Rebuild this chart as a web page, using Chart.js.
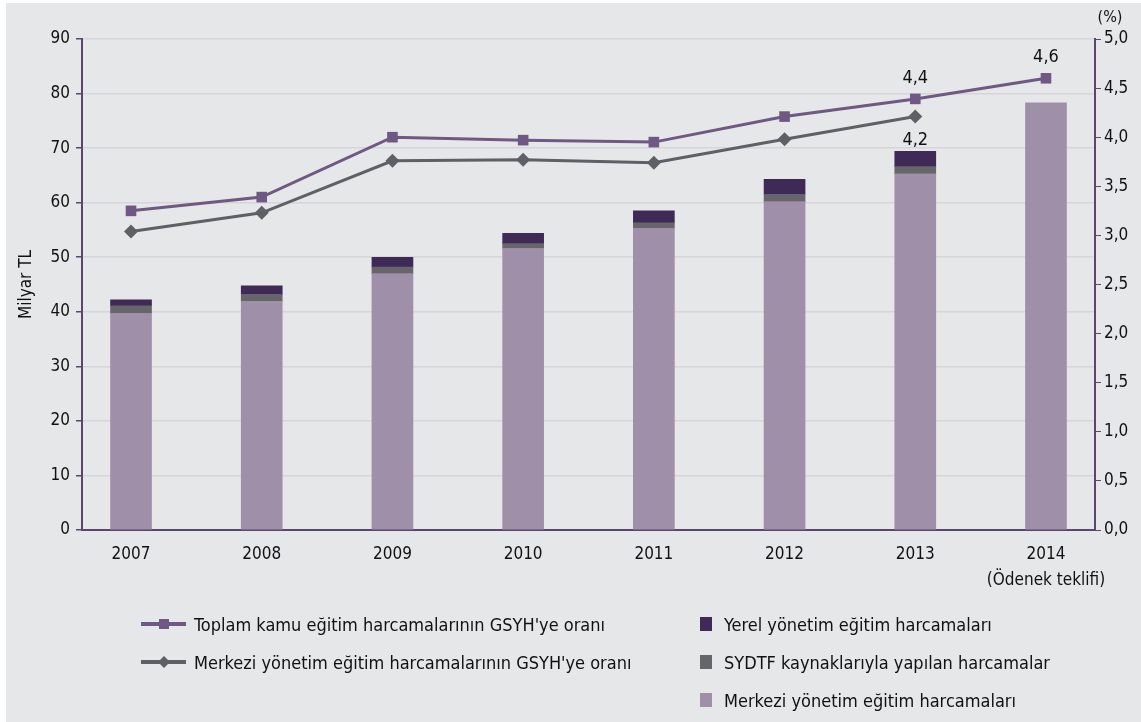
<!DOCTYPE html>
<html lang="tr">
<head>
    <meta charset="UTF-8">
    <title>Kamu eğitim harcamaları</title>
    <style>
        body {
            margin: 0;
            background: #fff;
            font-family: "DejaVu Sans Condensed", sans-serif;
        }

        #wrap {
            position: absolute;
            left: 6px;
            top: 3px;
            width: 1135px;
            height: 719px;
            background: #e6e7e9;
        }

        #legend .item {
            position: absolute;
            height: 20px;
            display: flex;
            align-items: center;
            font-size: 18px;
            color: #111;
            white-space: nowrap;
        }

        .lineMark {
            position: relative;
            width: 45px;
            height: 20px;
            margin-right: 8px;
        }

        .lineMark .bar {
            position: absolute;
            left: 0;
            right: 0;
            top: 8px;
            height: 4px;
        }

        .lineMark .dot {
            position: absolute;
            left: 18px;
            top: 5px;
            width: 10px;
            height: 10px;
        }

        .boxMark {
            width: 12px;
            height: 14px;
            margin-right: 12px;
        }
    </style>
</head>
<body>
    <div id="wrap">
        <canvas id="chart" width="1135" height="719"></canvas>
        <div id="legend"></div>
    </div>

    <script src="https://cdn.jsdelivr.net/npm/chart.js"></script>
    <script>
        // Yıllar (2014 iki satır)
        const yillar = ['2007', '2008', '2009', '2010', '2011', '2012', '2013', ['2014', '(Ödenek teklifi)']];

        // Milyar TL
        const merkeziHarcama = [39.7, 41.9, 47.0, 51.6, 55.3, 60.2, 65.3, 78.3];
        const sydtfHarcama = [1.4, 1.3, 1.2, 0.9, 1.0, 1.3, 1.3, null];
        const yerelHarcama = [1.1, 1.55, 1.8, 1.9, 2.2, 2.8, 2.8, null];

        // GSYH'ye oran (%)
        const toplamOran = [3.25, 3.39, 4.00, 3.97, 3.95, 4.21, 4.39, 4.60];
        const merkeziOran = [3.04, 3.23, 3.76, 3.77, 3.74, 3.98, 4.21, null];

        // değeri yazılan noktalar
        const etiketliToplam = [6, 7];
        const etiketliMerkezi = [6];

        const mor = '#5b4670';
        const yaziFont = '"DejaVu Sans Condensed", sans-serif';

        const virgul = v => v.toFixed(1).replace('.', ',');
        const noktalar = arr => arr.map((v, i) => ({ x: i, y: v }));

        // oran etiketleri ve (%) yazısı
        const etiketPlugin = {
            id: 'etiketler',
            afterDatasetsDraw(chart) {
                const ctx = chart.ctx;
                ctx.save();
                ctx.fillStyle = '#111';
                ctx.textAlign = 'center';
                ctx.textBaseline = 'middle';
                ctx.font = '18px ' + yaziFont;
                const m0 = chart.getDatasetMeta(0);
                etiketliToplam.forEach(i => {
                    const p = m0.data[i];
                    ctx.fillText(virgul(toplamOran[i]), p.x, p.y - 21);
                });
                const m1 = chart.getDatasetMeta(1);
                etiketliMerkezi.forEach(i => {
                    const p = m1.data[i];
                    ctx.fillText(virgul(merkeziOran[i]), p.x, p.y + 24);
                });
                const y2 = chart.scales.y2;
                ctx.font = '16px ' + yaziFont;
                ctx.fillText('(%)', y2.left + 15, chart.chartArea.top - 21);
                ctx.restore();
            }
        };

        const chart = new Chart(document.getElementById('chart'), {
            data: {
                datasets: [
                    {
                        type: 'line',
                        label: "Toplam kamu eğitim harcamalarının GSYH'ye oranı",
                        data: noktalar(toplamOran),
                        yAxisID: 'y2',
                        borderColor: '#6f5883',
                        backgroundColor: '#6f5883',
                        borderWidth: 3,
                        pointStyle: 'rect',
                        pointRadius: 7.5,
                        pointBorderWidth: 0,
                        tension: 0,
                        order: 0
                    },
                    {
                        type: 'line',
                        label: "Merkezi yönetim eğitim harcamalarının GSYH'ye oranı",
                        data: noktalar(merkeziOran),
                        yAxisID: 'y2',
                        borderColor: '#5f6065',
                        backgroundColor: '#5f6065',
                        borderWidth: 3,
                        pointStyle: 'rectRot',
                        pointRadius: 7,
                        pointBorderWidth: 0,
                        tension: 0,
                        order: 0
                    },
                    {
                        type: 'bar',
                        label: 'Merkezi yönetim eğitim harcamaları',
                        data: noktalar(merkeziHarcama),
                        backgroundColor: '#a08fa8',
                        barThickness: 41,
                        order: 1
                    },
                    {
                        type: 'bar',
                        label: 'SYDTF kaynaklarıyla yapılan harcamalar',
                        data: noktalar(sydtfHarcama),
                        backgroundColor: '#66656a',
                        barThickness: 41,
                        order: 1
                    },
                    {
                        type: 'bar',
                        label: 'Yerel yönetim eğitim harcamaları',
                        data: noktalar(yerelHarcama),
                        backgroundColor: '#3f2956',
                        barThickness: 41,
                        order: 1
                    }
                ]
            },
            options: {
                responsive: false,
                animation: false,
                layout: { padding: { top: 36, left: 0, right: 0, bottom: 112 } },
                plugins: {
                    legend: { display: false },
                    tooltip: { enabled: false }
                },
                scales: {
                    x: {
                        type: 'linear',
                        stacked: true,
                        offset: false,
                        min: -0.375,
                        max: 7.375,
                        afterBuildTicks: s => { s.ticks = yillar.map((_, i) => ({ value: i })); },
                        afterFit: s => { s.height = 80; },
                        grid: { display: false },
                        border: { display: true, color: mor, width: 2 },
                        ticks: {
                            callback: v => yillar[v],
                            color: '#111',
                            padding: 3,
                            maxRotation: 0,
                            autoSkip: false,
                            font: { family: yaziFont, size: 17, lineHeight: 1.55 }
                        }
                    },
                    y: {
                        position: 'left',
                        stacked: true,
                        min: 0,
                        max: 90,
                        afterFit: s => { s.width = 76; },
                        grid: { color: '#d8d4db', lineWidth: 1.5, tickColor: mor, tickLength: 6 },
                        border: { color: mor, width: 2 },
                        ticks: {
                            stepSize: 10,
                            color: '#111',
                            padding: 6,
                            font: { family: yaziFont, size: 17 }
                        },
                        title: {
                            display: true,
                            text: 'Milyar TL',
                            color: '#111',
                            padding: { top: 10, bottom: 0 },
                            font: { family: yaziFont, size: 17 }
                        }
                    },
                    y2: {
                        position: 'right',
                        min: 0,
                        max: 5,
                        afterFit: s => { s.width = 46; },
                        grid: { drawOnChartArea: false, tickColor: mor, tickLength: 6 },
                        border: { color: mor, width: 2 },
                        ticks: {
                            stepSize: 0.5,
                            color: '#111',
                            padding: 3,
                            callback: v => virgul(v),
                            font: { family: yaziFont, size: 17 }
                        }
                    }
                }
            },
            plugins: [etiketPlugin]
        });

        // lejant: solda çizgiler, sağda sütun katmanları
        const legend = document.getElementById('legend');
        const ds = chart.data.datasets;
        const satirlar = [
            { d: ds[0], x: 135, y: 621, tip: 'line', sekil: 'kare' },
            { d: ds[1], x: 135, y: 659, tip: 'line', sekil: 'elmas' },
            { d: ds[4], x: 694, y: 621, tip: 'box' },
            { d: ds[3], x: 694, y: 659, tip: 'box' },
            { d: ds[2], x: 694, y: 697, tip: 'box' }
        ];
        satirlar.forEach(s => {
            const el = document.createElement('div');
            el.className = 'item';
            el.style.left = s.x + 'px';
            el.style.top = (s.y - 10) + 'px';
            let isaret;
            if (s.tip === 'line') {
                const rot = s.sekil === 'elmas' ? 'transform:rotate(45deg) scale(0.85);' : '';
                isaret = `<span class="lineMark"><span class="bar" style="background:${s.d.borderColor}"></span>` +
                    `<span class="dot" style="background:${s.d.borderColor};${rot}"></span></span>`;
            } else {
                isaret = `<span class="boxMark" style="background:${s.d.backgroundColor}"></span>`;
            }
            el.innerHTML = isaret + '<span>' + s.d.label + '</span>';
            legend.appendChild(el);
        });
    </script>
</body>
</html>
